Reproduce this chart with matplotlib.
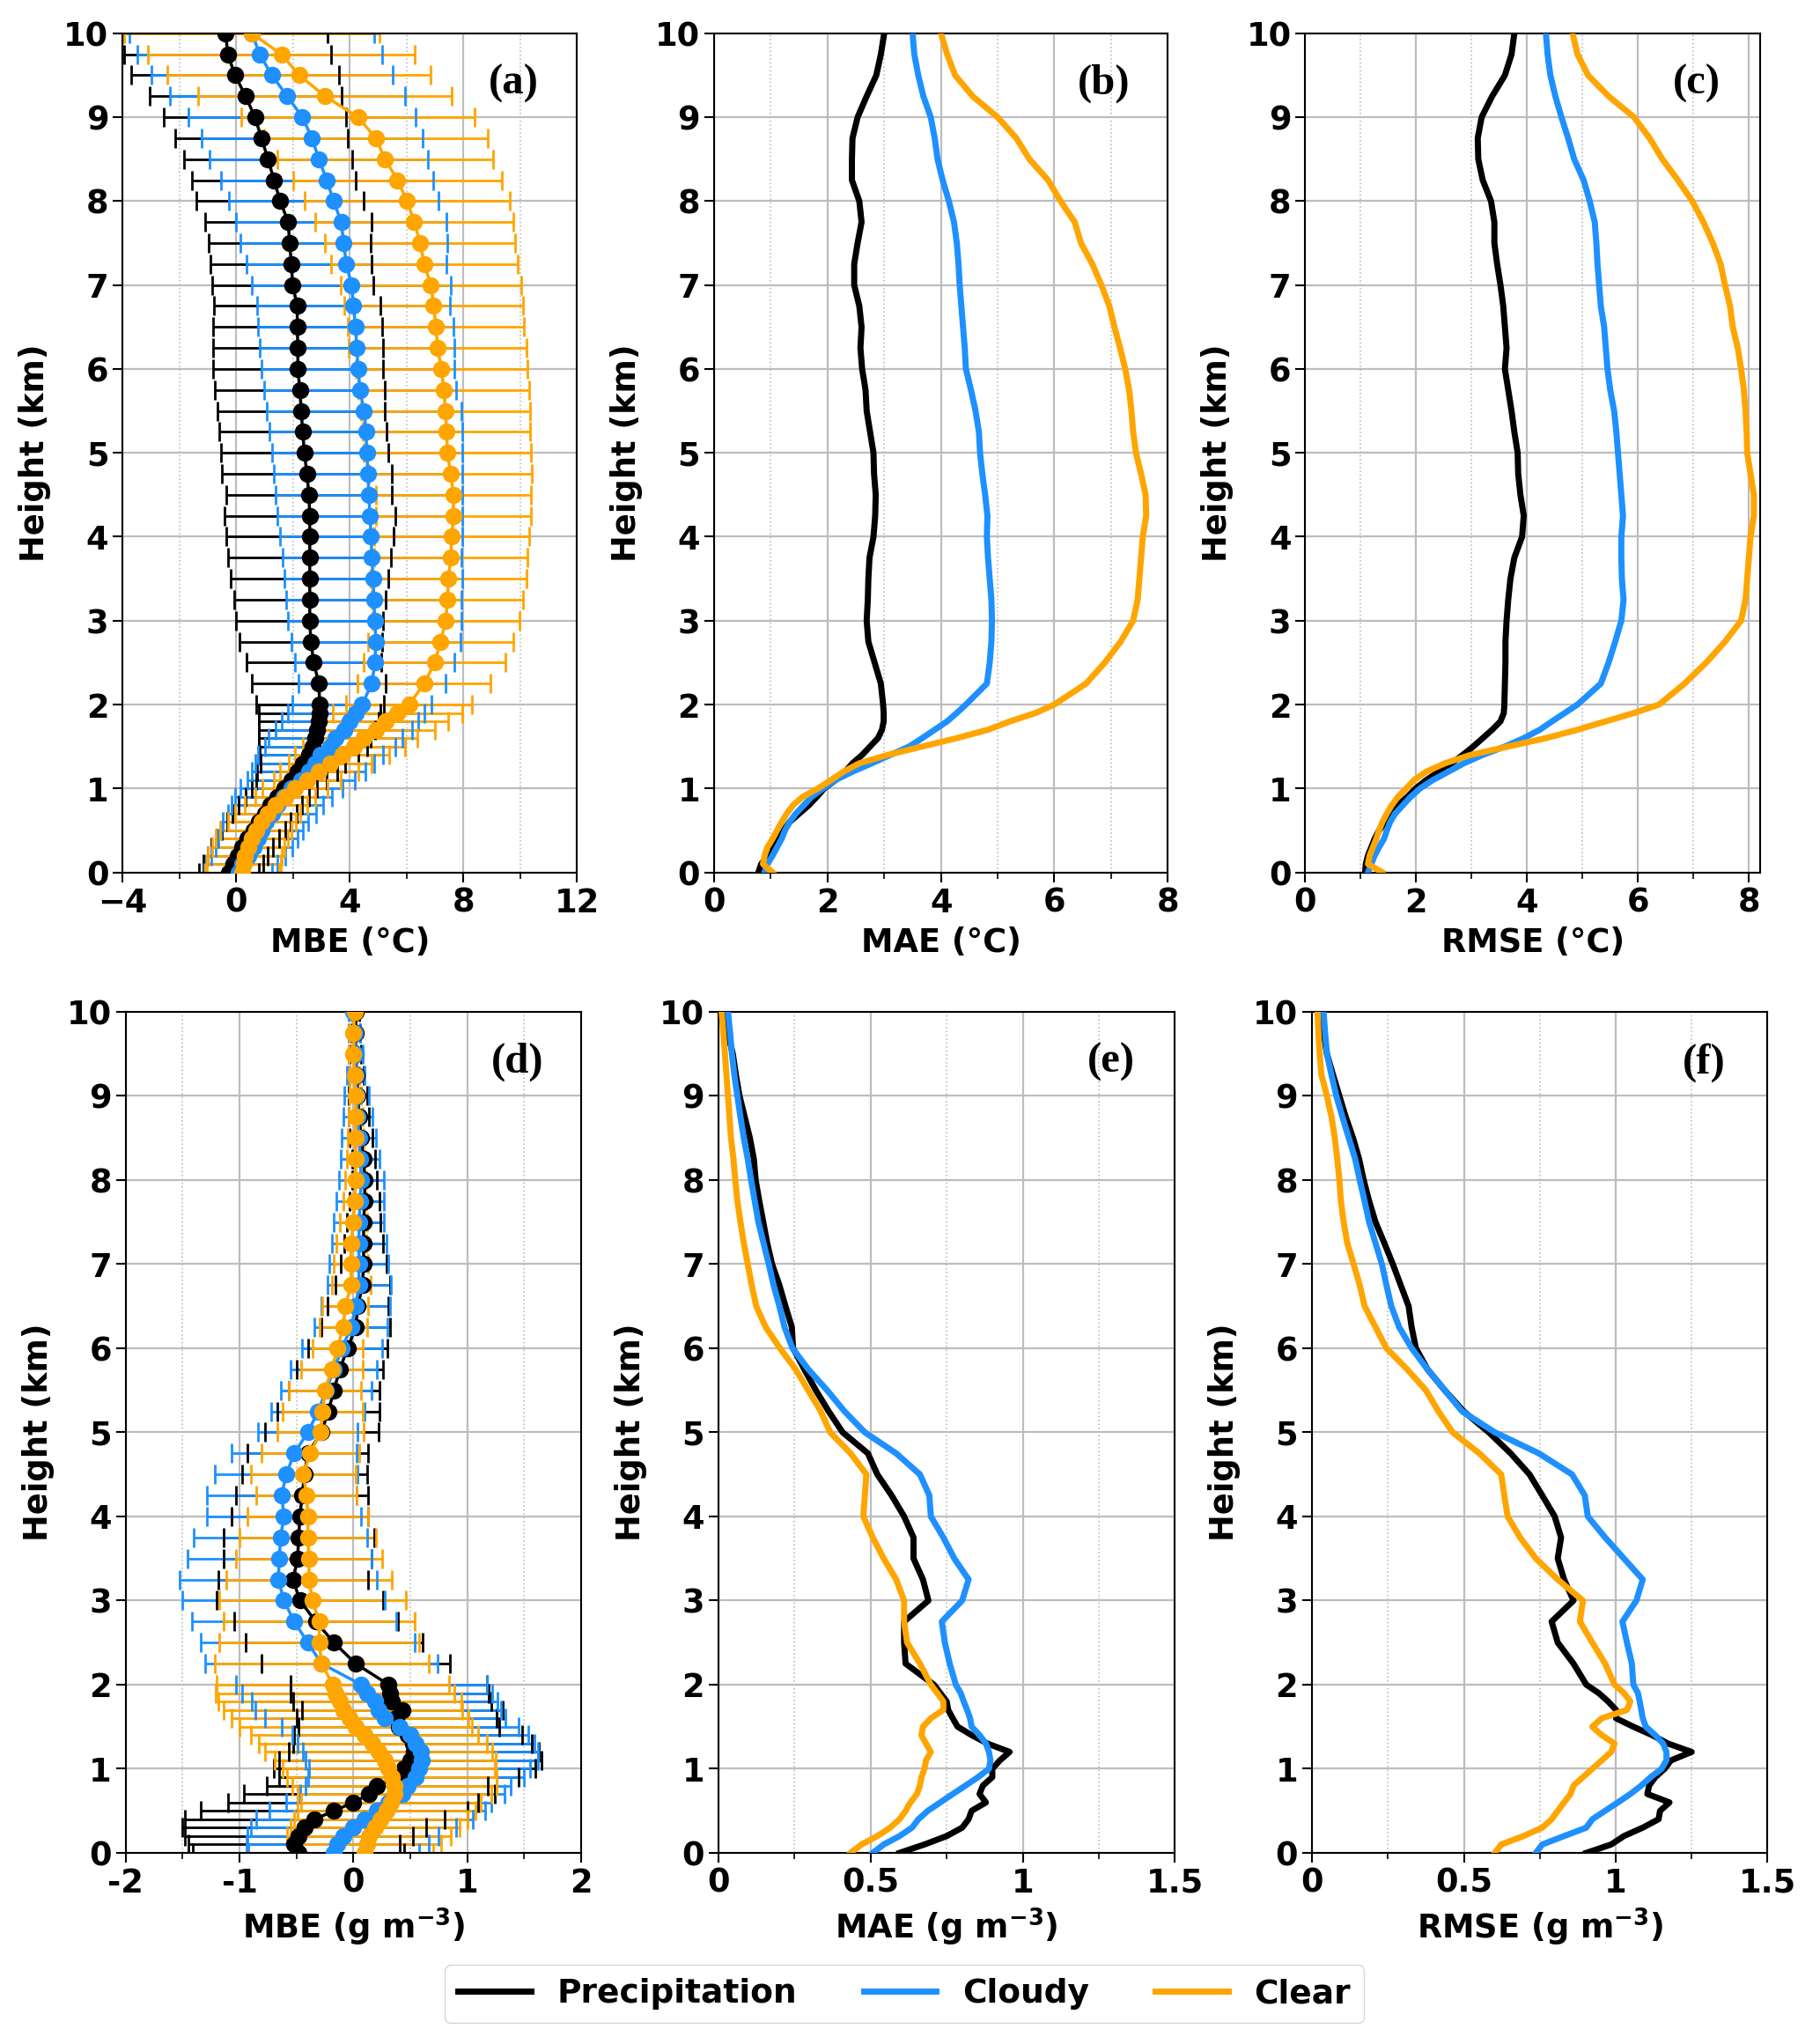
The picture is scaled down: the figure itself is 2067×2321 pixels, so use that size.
import matplotlib
matplotlib.use("Agg")
import matplotlib.pyplot as plt
from matplotlib.lines import Line2D
from matplotlib.ticker import MultipleLocator

plt.rcParams['font.family'] = ['DejaVu Sans']
plt.rcParams['font.weight'] = 'bold'
plt.rcParams['axes.labelweight'] = 'bold'

# height levels (km): 0.1 km steps up to 2 km, 0.25 km steps above
height = [0.0, 0.1, 0.2, 0.3, 0.4, 0.5, 0.6, 0.7, 0.8, 0.9, 1.0, 1.1, 1.2, 1.3, 1.4,
          1.5, 1.6, 1.7, 1.8, 1.9, 2.0, 2.25, 2.5, 2.75, 3.0, 3.25, 3.5, 3.75, 4.0,
          4.25, 4.5, 4.75, 5.0, 5.25, 5.5, 5.75, 6.0, 6.25, 6.5, 6.75, 7.0, 7.25,
          7.5, 7.75, 8.0, 8.25, 8.5, 8.75, 9.0, 9.25, 9.5, 9.75, 10.0]

categories = ["Precipitation", "Cloudy", "Clear"]
colors = ["black", "#1E90FF", "#FFA500"]

# ---- temperature MBE (a): mean and std ----
t_mbe_prec = [-0.25, -0.1, 0.05, 0.2, 0.4, 0.6, 0.8, 1.0, 1.2, 1.45, 1.7, 1.94, 2.15, 2.35, 2.56,
              2.70, 2.77, 2.84, 2.91, 2.94, 2.94, 2.91, 2.73, 2.63, 2.59, 2.59, 2.59, 2.59, 2.59,
              2.59, 2.56, 2.49, 2.40, 2.34, 2.29, 2.24, 2.17, 2.17, 2.15, 2.15, 1.99, 1.94,
              1.88, 1.83, 1.55, 1.33, 1.12, 0.89, 0.66, 0.33, -0.04, -0.3, -0.37]
t_std_prec = [1.05, 1.05, 1.05, 1.08, 1.1, 1.12, 1.12, 1.12, 1.12, 1.13, 1.15, 1.25, 1.4, 1.5, 1.73,
              1.9, 1.97, 2.04, 2.1, 2.14, 2.25, 2.36, 2.38, 2.52, 2.59, 2.66, 2.77, 2.87, 2.94,
              3.0, 2.91, 3.0, 2.95, 2.94, 2.95, 3.0, 3.0, 3.0, 2.98, 2.94, 2.85, 2.84,
              2.85, 2.94, 2.94, 2.88, 2.95, 3.04, 3.21, 3.38, 3.66, 3.65, 3.6]
t_mbe_cloud = [0.07, 0.2, 0.42, 0.62, 0.76, 0.9, 1.04, 1.25, 1.45, 1.66, 1.94, 2.29, 2.56, 2.77, 2.98,
               3.3, 3.5, 3.8, 4.0, 4.22, 4.43, 4.78, 4.88, 4.92, 4.88, 4.85, 4.82, 4.78, 4.75,
               4.71, 4.67, 4.64, 4.60, 4.57, 4.50, 4.36, 4.29, 4.25, 4.20, 4.13, 4.06, 3.88,
               3.78, 3.70, 3.43, 3.19, 2.91, 2.67, 2.33, 1.80, 1.25, 0.83, 0.55]
t_std_cloud = [1.2, 1.25, 1.3, 1.35, 1.4, 1.45, 1.5, 1.55, 1.6, 1.7, 1.8, 1.9, 2.0, 2.1, 2.2,
               2.3, 2.35, 2.4, 2.4, 2.4, 2.45, 2.6, 2.8, 2.98, 3.05, 3.08, 3.13, 3.16, 3.2,
               3.26, 3.28, 3.32, 3.35, 3.39, 3.43, 3.39, 3.39, 3.42, 3.44, 3.41, 3.51, 3.53,
               3.64, 3.7, 3.68, 3.74, 3.84, 3.89, 4.0, 4.15, 4.25, 4.3, 4.3]
t_mbe_clear = [0.2, 0.28, 0.3, 0.42, 0.55, 0.69, 0.9, 1.11, 1.39, 1.73, 2.08, 2.49, 2.91, 3.32, 3.74,
               4.16, 4.5, 4.92, 5.26, 5.68, 6.09, 6.62, 6.99, 7.2, 7.38, 7.44, 7.48, 7.55, 7.59,
               7.65, 7.65, 7.55, 7.44, 7.41, 7.37, 7.31, 7.23, 7.09, 7.04, 6.95, 6.86, 6.62,
               6.48, 6.27, 6.02, 5.68, 5.24, 4.92, 4.29, 3.13, 2.22, 1.59, 0.55]
t_std_clear = [1.3, 1.3, 1.3, 1.28, 1.26, 1.25, 1.2, 1.15, 1.1, 1.05, 1.15, 1.18, 1.38, 1.46, 1.66,
               1.8, 1.87, 2.07, 2.22, 2.29, 2.22, 2.34, 2.5, 2.56, 2.59, 2.67, 2.74, 2.7, 2.73,
               2.74, 2.74, 2.87, 2.95, 2.95, 2.98, 3.01, 3.02, 3.13, 3.1, 3.16, 3.18, 3.28,
               3.35, 3.49, 3.61, 3.67, 3.8, 3.94, 4.11, 4.46, 4.64, 4.71, 4.5]

# ---- temperature MAE (b) ----
t_mae_prec = [0.78, 0.83, 0.94, 1.06, 1.14, 1.22, 1.33, 1.5, 1.67, 1.81, 1.94, 2.14, 2.31, 2.44, 2.61,
              2.75, 2.89, 2.96, 2.99, 2.99, 2.98, 2.94, 2.83, 2.72, 2.69, 2.71, 2.72, 2.74, 2.81,
              2.84, 2.85, 2.82, 2.81, 2.75, 2.69, 2.67, 2.61, 2.58, 2.6, 2.56, 2.47, 2.47,
              2.53, 2.6, 2.56, 2.43, 2.43, 2.44, 2.53, 2.69, 2.86, 2.94, 3.0]
t_mae_cloud = [0.89, 0.94, 1.03, 1.11, 1.19, 1.25, 1.33, 1.44, 1.58, 1.72, 1.92, 2.14, 2.44, 2.78, 3.11,
               3.44, 3.67, 3.89, 4.11, 4.28, 4.44, 4.81, 4.86, 4.89, 4.9, 4.89, 4.86, 4.83, 4.81,
               4.82, 4.78, 4.73, 4.69, 4.67, 4.61, 4.53, 4.44, 4.42, 4.39, 4.36, 4.33, 4.31,
               4.28, 4.23, 4.14, 4.03, 3.94, 3.89, 3.82, 3.69, 3.6, 3.53, 3.5]
t_mae_clear = [1.03, 0.86, 0.89, 0.94, 1.03, 1.11, 1.19, 1.28, 1.39, 1.56, 1.83, 2.06, 2.28, 2.56, 3.06,
               3.67, 4.28, 4.83, 5.22, 5.67, 6.0, 6.56, 6.89, 7.17, 7.39, 7.47, 7.5, 7.53, 7.56,
               7.62, 7.61, 7.53, 7.44, 7.39, 7.36, 7.32, 7.25, 7.16, 7.06, 6.97, 6.83, 6.67,
               6.47, 6.36, 6.11, 5.89, 5.56, 5.33, 5.0, 4.56, 4.25, 4.11, 4.0]

# ---- temperature RMSE (c) ----
t_rmse_prec = [1.08, 1.09, 1.13, 1.19, 1.25, 1.33, 1.45, 1.56, 1.67, 1.84, 1.99, 2.18, 2.41, 2.64, 2.84,
               3.03, 3.2, 3.37, 3.52, 3.58, 3.59, 3.6, 3.61, 3.61, 3.63, 3.66, 3.7, 3.77, 3.91,
               3.94, 3.88, 3.84, 3.83, 3.77, 3.72, 3.66, 3.6, 3.63, 3.6, 3.57, 3.52, 3.46,
               3.41, 3.41, 3.35, 3.2, 3.12, 3.11, 3.18, 3.37, 3.6, 3.72, 3.77]
t_rmse_cloud = [1.13, 1.19, 1.25, 1.33, 1.42, 1.47, 1.53, 1.62, 1.76, 1.9, 2.07, 2.3, 2.58, 2.86, 3.2,
                3.6, 3.94, 4.23, 4.45, 4.68, 4.91, 5.33, 5.47, 5.59, 5.7, 5.74, 5.71, 5.7, 5.7,
                5.73, 5.7, 5.67, 5.64, 5.61, 5.57, 5.5, 5.45, 5.42, 5.39, 5.33, 5.3, 5.27,
                5.25, 5.22, 5.13, 5.02, 4.85, 4.74, 4.62, 4.51, 4.42, 4.37, 4.34]
t_rmse_clear = [1.39, 1.13, 1.16, 1.22, 1.28, 1.33, 1.39, 1.47, 1.56, 1.67, 1.82, 1.96, 2.18, 2.52, 2.98,
                3.66, 4.34, 4.91, 5.42, 5.93, 6.38, 6.84, 7.23, 7.57, 7.86, 7.94, 7.97, 8.0, 8.03,
                8.09, 8.09, 8.03, 7.97, 7.96, 7.94, 7.91, 7.86, 7.8, 7.71, 7.66, 7.57, 7.49,
                7.35, 7.18, 6.98, 6.72, 6.44, 6.21, 5.93, 5.47, 5.1, 4.91, 4.82]

# ---- humidity MBE (d): mean and std ----
q_mbe_prec = [-0.48, -0.52, -0.48, -0.43, -0.34, -0.17, 0.0, 0.14, 0.21, 0.4, 0.45, 0.5, 0.53, 0.52, 0.48,
              0.40, 0.38, 0.43, 0.34, 0.32, 0.31, 0.02, -0.17, -0.33, -0.47, -0.53, -0.49, -0.48, -0.47,
              -0.45, -0.43, -0.4, -0.28, -0.22, -0.17, -0.12, -0.05, 0.02, 0.04, 0.08, 0.09, 0.09,
              0.09, 0.1, 0.1, 0.09, 0.07, 0.05, 0.04, 0.03, 0.02, 0.02, 0.02]
q_std_prec = [0.93, 0.93, 1.0, 1.07, 1.14, 1.17, 1.1, 1.1, 0.97, 1.05, 1.15, 1.15, 1.1, 1.05, 1.0,
              0.88, 0.88, 0.88, 0.87, 0.87, 0.86, 0.83, 0.78, 0.72, 0.73, 0.66, 0.65, 0.66, 0.6,
              0.58, 0.55, 0.53, 0.5, 0.45, 0.4, 0.38, 0.35, 0.3, 0.27, 0.24, 0.2, 0.17,
              0.15, 0.13, 0.11, 0.1, 0.1, 0.09, 0.08, 0.06, 0.05, 0.04, 0.03]
q_mbe_cloud = [-0.17, -0.14, -0.09, 0.0, 0.1, 0.21, 0.31, 0.43, 0.48, 0.55, 0.58, 0.6, 0.59, 0.55, 0.5,
               0.41, 0.28, 0.22, 0.19, 0.12, 0.07, -0.28, -0.4, -0.52, -0.61, -0.66, -0.65, -0.64, -0.61,
               -0.63, -0.59, -0.52, -0.4, -0.31, -0.24, -0.17, -0.1, -0.02, 0.02, 0.05, 0.05, 0.05,
               0.05, 0.06, 0.07, 0.06, 0.05, 0.04, 0.03, 0.02, 0.02, 0.01, 0.0]
q_std_cloud = [0.75, 0.8, 0.84, 0.9, 0.95, 0.95, 0.9, 0.9, 0.9, 0.95, 0.97, 1.02, 1.03, 1.04, 1.04,
               1.04, 1.06, 1.08, 1.08, 1.1, 1.1, 1.02, 0.94, 0.9, 0.89, 0.87, 0.81, 0.76, 0.68,
               0.66, 0.63, 0.55, 0.44, 0.41, 0.4, 0.38, 0.35, 0.32, 0.3, 0.28, 0.26, 0.24,
               0.22, 0.21, 0.2, 0.17, 0.15, 0.13, 0.11, 0.08, 0.06, 0.05, 0.04]
q_mbe_clear = [0.1, 0.12, 0.14, 0.19, 0.24, 0.29, 0.33, 0.36, 0.36, 0.34, 0.31, 0.28, 0.22, 0.17, 0.1,
               0.02, -0.03, -0.09, -0.12, -0.16, -0.18, -0.28, -0.3, -0.3, -0.36, -0.39, -0.39, -0.4, -0.4,
               -0.41, -0.44, -0.38, -0.29, -0.27, -0.25, -0.19, -0.14, -0.09, -0.07, -0.02, -0.02, -0.02,
               0.0, 0.01, 0.02, 0.02, 0.02, 0.02, 0.02, 0.01, 0.0, 0.0, 0.01]
q_std_clear = [0.6, 0.65, 0.72, 0.74, 0.76, 0.78, 0.79, 0.85, 0.9, 0.92, 0.93, 0.97, 1.0, 1.0, 1.0,
               1.02, 1.04, 1.05, 1.07, 1.05, 1.02, 0.94, 0.88, 0.84, 0.82, 0.73, 0.64, 0.6, 0.53,
               0.44, 0.46, 0.43, 0.38, 0.35, 0.32, 0.27, 0.22, 0.21, 0.2, 0.17, 0.15, 0.13,
               0.12, 0.1, 0.09, 0.08, 0.07, 0.06, 0.05, 0.04, 0.04, 0.03, 0.03]

# ---- humidity MAE (e) ----
q_mae_prec = [0.595, 0.677, 0.75, 0.801, 0.822, 0.832, 0.879, 0.858, 0.869, 0.9, 0.9, 0.925, 0.957, 0.884, 0.832,
              0.786, 0.77, 0.755, 0.75, 0.729, 0.708, 0.615, 0.61, 0.61, 0.69, 0.672, 0.641, 0.641, 0.61,
              0.569, 0.522, 0.491, 0.408, 0.362, 0.32, 0.282, 0.245, 0.241, 0.22, 0.2, 0.176, 0.16,
              0.147, 0.134, 0.122, 0.116, 0.103, 0.086, 0.069, 0.057, 0.047, 0.03, 0.016]
q_mae_cloud = [0.507, 0.543, 0.595, 0.636, 0.657, 0.688, 0.729, 0.77, 0.812, 0.853, 0.889, 0.894, 0.889, 0.879, 0.858,
               0.832, 0.827, 0.817, 0.806, 0.796, 0.78, 0.76, 0.744, 0.734, 0.801, 0.822, 0.775, 0.739, 0.698,
               0.693, 0.662, 0.584, 0.481, 0.414, 0.357, 0.295, 0.243, 0.217, 0.2, 0.181, 0.165, 0.148,
               0.131, 0.119, 0.107, 0.096, 0.083, 0.072, 0.062, 0.052, 0.044, 0.038, 0.031]
q_mae_clear = [0.434, 0.47, 0.522, 0.564, 0.595, 0.615, 0.631, 0.652, 0.662, 0.667, 0.677, 0.682, 0.698, 0.682, 0.667,
               0.672, 0.698, 0.739, 0.739, 0.719, 0.698, 0.662, 0.62, 0.61, 0.61, 0.584, 0.543, 0.507, 0.476,
               0.481, 0.486, 0.434, 0.367, 0.336, 0.295, 0.253, 0.202, 0.155, 0.124, 0.109, 0.096, 0.083,
               0.072, 0.062, 0.055, 0.049, 0.041, 0.036, 0.031, 0.026, 0.021, 0.016, 0.01]

# ---- humidity RMSE (f) ----
q_rmse_prec = [0.903, 0.985, 1.027, 1.089, 1.141, 1.146, 1.177, 1.104, 1.11, 1.13, 1.161, 1.182, 1.25, 1.172, 1.12,
               1.058, 1.001, 1.001, 0.975, 0.944, 0.903, 0.861, 0.809, 0.789, 0.861, 0.83, 0.809, 0.82, 0.799,
               0.758, 0.716, 0.654, 0.582, 0.499, 0.437, 0.38, 0.342, 0.328, 0.318, 0.292, 0.266, 0.238,
               0.209, 0.188, 0.17, 0.155, 0.135, 0.111, 0.09, 0.069, 0.049, 0.038, 0.028]
q_rmse_cloud = [0.737, 0.758, 0.83, 0.903, 0.923, 0.965, 1.007, 1.048, 1.084, 1.115, 1.151, 1.167, 1.167, 1.156, 1.13,
                1.099, 1.089, 1.084, 1.079, 1.073, 1.058, 1.053, 1.037, 1.022, 1.068, 1.089, 1.027, 0.965, 0.908,
                0.898, 0.856, 0.747, 0.602, 0.494, 0.437, 0.38, 0.328, 0.287, 0.261, 0.245, 0.23, 0.209,
                0.188, 0.173, 0.157, 0.142, 0.121, 0.1, 0.08, 0.064, 0.049, 0.043, 0.038]
q_rmse_clear = [0.602, 0.623, 0.696, 0.758, 0.789, 0.809, 0.83, 0.851, 0.861, 0.892, 0.923, 0.954, 0.985, 0.996, 0.954,
                0.923, 0.954, 1.037, 1.048, 1.027, 0.996, 0.965, 0.923, 0.882, 0.892, 0.809, 0.737, 0.685, 0.644,
                0.633, 0.623, 0.551, 0.463, 0.416, 0.375, 0.313, 0.245, 0.209, 0.173, 0.157, 0.137, 0.116,
                0.104, 0.095, 0.09, 0.083, 0.075, 0.064, 0.049, 0.031, 0.025, 0.021, 0.018]

fig = plt.figure(figsize=(20.67, 23.21), dpi=100)

# panel positions [left, bottom, width, height] in figure fraction
pos = {
    "a": [0.0674, 0.5732, 0.2496, 0.4105],
    "b": [0.3924, 0.5732, 0.2492, 0.4105],
    "c": [0.7172, 0.5732, 0.2498, 0.4105],
    "d": [0.0691, 0.0935, 0.2501, 0.4115],
    "e": [0.3948, 0.0935, 0.2507, 0.4115],
    "f": [0.7209, 0.0935, 0.2503, 0.4115],
}


def style_axis(ax, xlim, major, xlabel, tag, xticklabels=None):
    ax.set_xlim(*xlim)
    ax.set_ylim(0, 10)
    ax.xaxis.set_major_locator(MultipleLocator(major))
    ax.xaxis.set_minor_locator(MultipleLocator(major / 2))
    ax.yaxis.set_major_locator(MultipleLocator(1))
    if xticklabels is not None:
        ticks = [xlim[0] + i * major for i in range(len(xticklabels))]
        ax.set_xticks(ticks)
        ax.set_xticklabels(xticklabels)
    ax.grid(which='major', color='#bdbdbd', lw=1.6, zorder=0)
    ax.grid(which='minor', axis='x', color='#bdbdbd', lw=1.2, ls=':', zorder=0)
    ax.set_axisbelow(True)
    ax.tick_params(which='major', labelsize=26.5, length=8, width=1.5)
    ax.tick_params(which='minor', length=5, width=1.2)
    for s in ax.spines.values():
        s.set_linewidth(1.5)
    ax.set_xlabel(xlabel, fontsize=26.5, labelpad=6)
    ax.set_ylabel("Height (km)", fontsize=26.5, labelpad=10)
    ax.text(0.86, 0.94, tag, transform=ax.transAxes, ha='center', va='center',
            fontsize=35, fontweight='bold', family=['Liberation Serif', 'DejaVu Serif'])


def mbe_panel(ax, means, stds):
    for m, s, c in zip(means, stds, colors):
        eb = ax.errorbar(m, height, xerr=s, fmt='none', ecolor=c, elinewidth=2.0,
                         capsize=8, capthick=2.0, zorder=2)
        for cap in eb[1]:
            cap.set_zorder(2.5)
    for m, c in zip(means, colors):
        ax.plot(m, height, '-o', color=c, lw=2.5, ms=13, zorder=4)


def line_panel(ax, series):
    for v, c in zip(series, colors):
        ax.plot(v, height, '-', color=c, lw=5, zorder=3)


ax_a = fig.add_axes(pos["a"])
mbe_panel(ax_a, [t_mbe_prec, t_mbe_cloud, t_mbe_clear], [t_std_prec, t_std_cloud, t_std_clear])
style_axis(ax_a, (-4, 12), 4, "MBE (°C)", "(a)")

ax_b = fig.add_axes(pos["b"])
line_panel(ax_b, [t_mae_prec, t_mae_cloud, t_mae_clear])
style_axis(ax_b, (0, 8), 2, "MAE (°C)", "(b)")

ax_c = fig.add_axes(pos["c"])
line_panel(ax_c, [t_rmse_prec, t_rmse_cloud, t_rmse_clear])
style_axis(ax_c, (0, 8.2), 2, "RMSE (°C)", "(c)")

ax_d = fig.add_axes(pos["d"])
mbe_panel(ax_d, [q_mbe_prec, q_mbe_cloud, q_mbe_clear], [q_std_prec, q_std_cloud, q_std_clear])
style_axis(ax_d, (-2, 2), 1, "MBE (g m$^{\\mathbf{-3}}$)", "(d)", ["-2", "-1", "0", "1", "2"])

ax_e = fig.add_axes(pos["e"])
line_panel(ax_e, [q_mae_prec, q_mae_cloud, q_mae_clear])
style_axis(ax_e, (0, 1.5), 0.5, "MAE (g m$^{\\mathbf{-3}}$)", "(e)", ["0", "0.5", "1", "1.5"])

ax_f = fig.add_axes(pos["f"])
line_panel(ax_f, [q_rmse_prec, q_rmse_cloud, q_rmse_clear])
style_axis(ax_f, (0, 1.5), 0.5, "RMSE (g m$^{\\mathbf{-3}}$)", "(f)", ["0", "0.5", "1", "1.5"])

handles = [Line2D([0], [0], color=c, lw=5) for c in colors]
fig.legend(handles, categories, loc='center', bbox_to_anchor=(0.497, 0.0245), ncol=3,
           prop={'size': 27, 'weight': 'bold'}, handlelength=2.2, columnspacing=2.0,
           frameon=True, fancybox=True, edgecolor='#cccccc')

fig.savefig("out.png", dpi=100)
